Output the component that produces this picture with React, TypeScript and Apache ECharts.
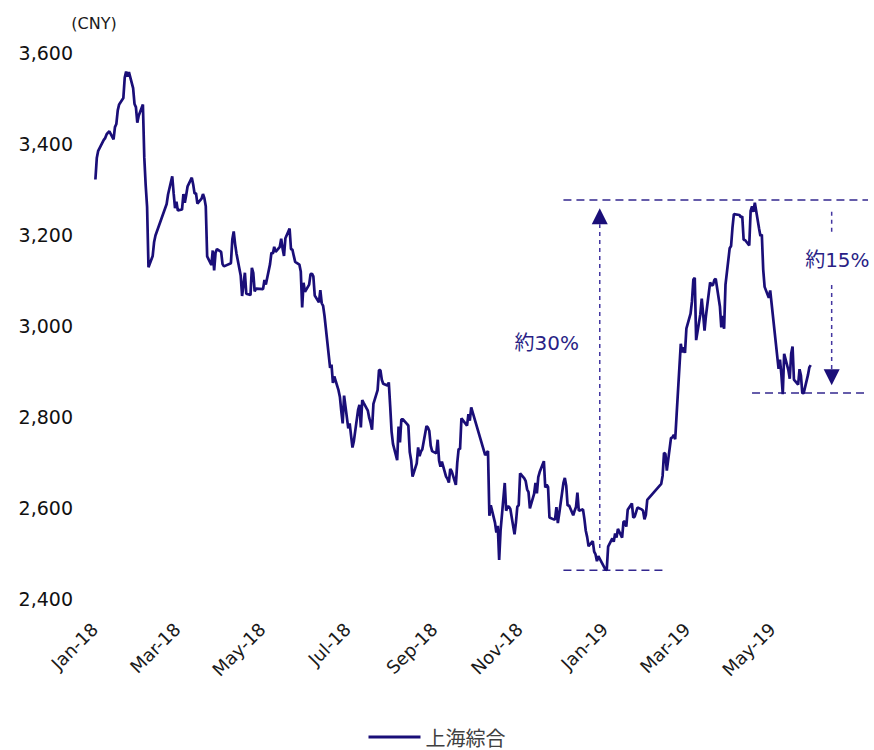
import React, { useEffect, useRef } from "react";
import * as echarts from "echarts";

// ---- data: Shanghai Composite daily closes (Jan 2018 – May 2019) ----
const monthDays: [string, number[]][] = [
  ["2018-01", [2, 3, 4, 5, 8, 9, 10, 11, 12, 15, 16, 17, 18, 19, 22, 23, 24, 25, 26, 29, 30, 31]],
  ["2018-02", [1, 2, 5, 6, 7, 8, 9, 12, 13, 14, 22, 23, 26, 27, 28]],
  ["2018-03", [1, 2, 5, 6, 7, 8, 9, 12, 13, 14, 15, 16, 19, 20, 21, 22, 23, 26, 27, 28, 29, 30]],
  ["2018-04", [2, 3, 4, 9, 10, 11, 12, 13, 16, 17, 18, 19, 20, 23, 24, 25, 26, 27]],
  ["2018-05", [2, 3, 4, 7, 8, 9, 10, 11, 14, 15, 16, 17, 18, 21, 22, 23, 24, 25, 28, 29, 30, 31]],
  ["2018-06", [1, 4, 5, 6, 7, 8, 11, 12, 13, 14, 15, 19, 20, 21, 22, 25, 26, 27, 28, 29]],
  ["2018-07", [2, 3, 4, 5, 6, 9, 10, 11, 12, 13, 16, 17, 18, 19, 20, 23, 24, 25, 26, 27, 30, 31]],
  ["2018-08", [1, 2, 3, 6, 7, 8, 9, 10, 13, 14, 15, 16, 17, 20, 21, 22, 23, 24, 27, 28, 29, 30, 31]],
  ["2018-09", [3, 4, 5, 6, 7, 10, 11, 12, 13, 14, 17, 18, 19, 20, 21, 25, 26, 27, 28]],
  ["2018-10", [8, 9, 10, 11, 12, 15, 16, 17, 18, 19, 22, 23, 24, 25, 26, 29, 30, 31]],
  ["2018-11", [1, 2, 5, 6, 7, 8, 9, 12, 13, 14, 15, 16, 19, 20, 21, 22, 23, 26, 27, 28, 29, 30]],
  ["2018-12", [3, 4, 5, 6, 7, 10, 11, 12, 13, 14, 17, 18, 19, 20, 21, 24, 25, 26, 27, 28]],
  ["2019-01", [2, 3, 4, 7, 8, 9, 10, 11, 14, 15, 16, 17, 18, 21, 22, 23, 24, 25, 28, 29, 30, 31]],
  ["2019-02", [1, 11, 12, 13, 14, 15, 18, 19, 20, 21, 22, 25, 26, 27, 28]],
  ["2019-03", [1, 4, 5, 6, 7, 8, 11, 12, 13, 14, 15, 18, 19, 20, 21, 22, 25, 26, 27, 28, 29]],
  ["2019-04", [1, 2, 3, 4, 8, 9, 10, 11, 12, 15, 16, 17, 18, 19, 22, 23, 24, 25, 26, 29, 30]],
  ["2019-05", [6, 7, 8, 9, 10, 13, 14, 15, 16, 17, 20, 21, 22, 23, 24, 27, 28, 29]],
];

const closeValues: number[] = [
  // 2018-01
  3322, 3369, 3385, 3391, 3409, 3413, 3421, 3425, 3428, 3410, 3437, 3444, 3474, 3487, 3501, 3546, 3559, 3548, 3558, 3523, 3488, 3481,
  // 2018-02
  3447, 3462, 3487, 3370, 3309, 3262, 3129, 3154, 3184, 3199, 3268, 3289, 3329, 3292, 3259,
  // 2018-03
  3273, 3254, 3256, 3290, 3271, 3288, 3307, 3326, 3311, 3291, 3292, 3269, 3280, 3290, 3281, 3263, 3153, 3134, 3166, 3122, 3161, 3169,
  // 2018-04
  3163, 3136, 3131, 3138, 3190, 3208, 3180, 3159, 3111, 3066, 3091, 3117, 3071, 3068, 3128, 3117, 3076, 3082,
  // 2018-05
  3081, 3101, 3091, 3136, 3161, 3159, 3174, 3163, 3174, 3192, 3170, 3154, 3193, 3214, 3169, 3168, 3154, 3141, 3135, 3120, 3041, 3095,
  // 2018-06
  3075, 3091, 3114, 3115, 3109, 3067, 3052, 3079, 3050, 3044, 3022, 2908, 2915, 2875, 2889, 2859, 2844, 2813, 2786, 2847,
  // 2018-07
  2775, 2786, 2759, 2733, 2747, 2815, 2827, 2777, 2837, 2831, 2814, 2798, 2787, 2772, 2829, 2859, 2903, 2903, 2882, 2873, 2869, 2876,
  // 2018-08
  2824, 2768, 2741, 2705, 2779, 2744, 2795, 2795, 2785, 2781, 2723, 2705, 2669, 2698, 2733, 2714, 2724, 2729, 2780, 2777, 2769, 2737, 2725,
  // 2018-09
  2720, 2750, 2704, 2691, 2702, 2669, 2664, 2656, 2686, 2681, 2651, 2699, 2730, 2729, 2797, 2781, 2806, 2792, 2821,
  // 2018-10
  2716, 2721, 2725, 2583, 2606, 2568, 2546, 2561, 2486, 2550, 2655, 2594, 2603, 2603, 2598, 2542, 2568, 2603,
  // 2018-11
  2606, 2676, 2665, 2659, 2641, 2635, 2599, 2631, 2655, 2632, 2668, 2679, 2703, 2645, 2651, 2646, 2579, 2575, 2575, 2602, 2567, 2588,
  // 2018-12
  2655, 2666, 2649, 2605, 2606, 2584, 2594, 2602, 2634, 2594, 2597, 2576, 2550, 2536, 2516, 2527, 2504, 2498, 2483, 2494,
  // 2019-01
  2465, 2464, 2515, 2533, 2526, 2544, 2535, 2554, 2535, 2570, 2570, 2559, 2596, 2610, 2579, 2581, 2591, 2601, 2597, 2594, 2575, 2585,
  // 2019-02
  2618, 2653, 2671, 2721, 2719, 2682, 2754, 2755, 2761, 2751, 2804, 2961, 2942, 2953, 2941,
  // 2019-03
  2994, 3027, 3054, 3102, 3106, 2969, 3026, 3060, 3026, 2990, 3022, 3096, 3090, 3090, 3101, 3104, 3043, 2997, 3022, 2994, 3091,
  // 2019-04
  3171, 3176, 3216, 3246, 3244, 3239, 3241, 3189, 3189, 3177, 3253, 3263, 3251, 3271, 3215, 3198, 3201, 3124, 3086, 3062, 3078,
  // 2019-05
  2906, 2926, 2893, 2850, 2939, 2903, 2884, 2939, 2955, 2882, 2871, 2905, 2891, 2852, 2853, 2892, 2909, 2914,
];

const xTickDates = ["2018-01-01", "2018-03-01", "2018-05-01", "2018-07-01", "2018-09-01", "2018-11-01", "2019-01-01", "2019-03-01", "2019-05-01"];
const monthNames = ["Jan", "Feb", "Mar", "Apr", "May", "Jun", "Jul", "Aug", "Sep", "Oct", "Nov", "Dec"];
const yMin = 2400;
const yMax = 3600;
const yStep = 200;

const SERIES_NAME = "上海綜合";
const UNIT_LABEL = "(CNY)";

// annotation anchors (data space)
const annHigh = 3277;
const annLow = 2463;
const annMayLow = 2853;
const annLeftStart = "2018-12-03";
const annLowEnd = "2019-02-12";
const annLeftX = "2018-12-29";
const annLeftBottom = 2512;
const annLeftTip = 3259;
const annLeftText = { date: "2018-11-21", value: 2963, text: "約30%" };
const annMayStart = "2019-04-17";
const annRightX = "2019-06-13";
const annRightSeg1 = [3251, 3207];
const annRightSeg2Top = 3090;
const annRightTip = 2870;
const annRightText = { date: "2019-05-25", value: 3145, text: "約15%" };

const DAY = 86400000;
const ts = (d: string) => {
  const [y, m, dd] = d.split("-").map(Number);
  return Date.UTC(y, m - 1, dd);
};
const X_MIN = ts("2018-01-01");
const X_MAX = ts("2019-07-09");
const LABEL_SHIFT = 0.5 * DAY;

const LINE_COLOR = "#1a0e78";
const DASH_COLOR = "#33278f";
const TEXT_COLOR = "#2a1f86";

export default function App() {
  const ref = useRef<HTMLDivElement>(null);

  useEffect(() => {
    if (!ref.current) return;
    const chart = echarts.init(ref.current, null, { renderer: "svg" });

    const tradeDates = monthDays.flatMap(([m, ds]) => ds.map((d) => `${m}-${String(d).padStart(2, "0")}`));
    const data = tradeDates.map((d, i) => [ts(d), closeValues[i]]);

    chart.setOption({
      animation: false,
      grid: { left: 94, right: 6, top: 53, bottom: 151, containLabel: false },
      xAxis: {
        type: "value",
        min: X_MIN,
        max: X_MAX,
        axisLine: { show: false },
        axisTick: { show: false },
        splitLine: { show: false },
        axisLabel: {
          customValues: xTickDates.map((d) => ts(d) + LABEL_SHIFT),
          formatter: (v: number) => {
            const dt = new Date(v - LABEL_SHIFT);
            return `${monthNames[dt.getUTCMonth()]}-${String(dt.getUTCFullYear()).slice(2)}`;
          },
          rotate: 45,
          margin: 27,
          fontSize: 18,
          fontFamily: "DejaVu Sans",
          color: "#1a1a1a",
        },
      },
      yAxis: {
        type: "value",
        min: yMin,
        max: yMax,
        interval: yStep,
        name: UNIT_LABEL,
        nameLocation: "end",
        nameGap: 30,
        nameTextStyle: { fontSize: 16, fontFamily: "DejaVu Sans", color: "#1a1a1a", align: "center", verticalAlign: "middle" },
        axisLine: { show: false },
        axisTick: { show: false },
        splitLine: { show: false },
        axisLabel: {
          formatter: (v: number) => v.toLocaleString("en-US"),
          margin: 21,
          fontSize: 19,
          fontFamily: "DejaVu Sans",
          color: "#111111",
        },
      },
      legend: {
        top: 727,
        left: "center",
        padding: 0,
        itemWidth: 52,
        itemHeight: 3,
        icon: "rect",
        itemStyle: { color: LINE_COLOR },
        textStyle: { fontSize: 20, lineHeight: 20, fontFamily: "Noto Sans CJK JP", color: "#404040", padding: [0, 0, 0, 0] },
        data: [SERIES_NAME],
      },
      series: [
        {
          type: "line",
          name: SERIES_NAME,
          data,
          symbol: "none",
          showSymbol: false,
          lineStyle: { color: LINE_COLOR, width: 2.7 },
          itemStyle: { color: LINE_COLOR },
        },
      ],
    });

    const px = (d: string | number, v: number) =>
      chart.convertToPixel({ gridIndex: 0 }, [typeof d === "string" ? ts(d) : d, v]) as number[];

    const hLine = (x1: string | number, x2: string | number, v: number) => {
      const a = px(x1, v);
      const b = px(x2, v);
      return {
        type: "line",
        shape: { x1: a[0], y1: a[1], x2: b[0], y2: b[1] },
        style: { stroke: DASH_COLOR, lineWidth: 1.5, lineDash: [8, 5] },
        silent: true,
      };
    };
    const vLine = (x: string, v1: number, yPix2?: number, v2?: number) => {
      const a = px(x, v1);
      const y2 = yPix2 !== undefined ? yPix2 : px(x, v2 as number)[1];
      return {
        type: "line",
        shape: { x1: a[0], y1: a[1], x2: a[0], y2 },
        style: { stroke: "#4336a0", lineWidth: 1.5, lineDash: [4, 4] },
        silent: true,
      };
    };

    const leftTip = px(annLeftX, annLeftTip);
    const rightTip = px(annRightX, annRightTip);
    const aw = 8;
    const ah = 16;
    const lt = px(annLeftText.date, annLeftText.value);
    const rt = px(annRightText.date, annRightText.value);

    chart.setOption({
      graphic: [
        hLine(annLeftStart, X_MAX, annHigh),
        hLine(annLeftStart, annLowEnd, annLow),
        hLine(annMayStart, X_MAX, annMayLow),
        vLine(annLeftX, annLeftBottom, leftTip[1] + ah),
        {
          type: "polygon",
          shape: { points: [[leftTip[0], leftTip[1]], [leftTip[0] - aw, leftTip[1] + ah], [leftTip[0] + aw, leftTip[1] + ah]] },
          style: { fill: LINE_COLOR },
          silent: true,
        },
        vLine(annRightX, annRightSeg1[0], undefined, annRightSeg1[1]),
        vLine(annRightX, annRightSeg2Top, rightTip[1] - ah),
        {
          type: "polygon",
          shape: { points: [[rightTip[0], rightTip[1]], [rightTip[0] - aw, rightTip[1] - ah], [rightTip[0] + aw, rightTip[1] - ah]] },
          style: { fill: LINE_COLOR },
          silent: true,
        },
        {
          type: "text",
          x: lt[0],
          y: lt[1],
          style: { text: annLeftText.text, fontSize: 20, fontFamily: "'DejaVu Sans', 'Noto Sans CJK JP'", fill: TEXT_COLOR, align: "center", verticalAlign: "middle" },
          silent: true,
        },
        {
          type: "text",
          x: rt[0],
          y: rt[1],
          style: { text: annRightText.text, fontSize: 20, fontFamily: "'DejaVu Sans', 'Noto Sans CJK JP'", fill: TEXT_COLOR, align: "left", verticalAlign: "middle" },
          silent: true,
        },
      ],
    });

    return () => chart.dispose();
  }, []);

  return <div ref={ref} style={{ position: "absolute", left: 0, top: 0, width: 874, height: 750 }} />;
}
